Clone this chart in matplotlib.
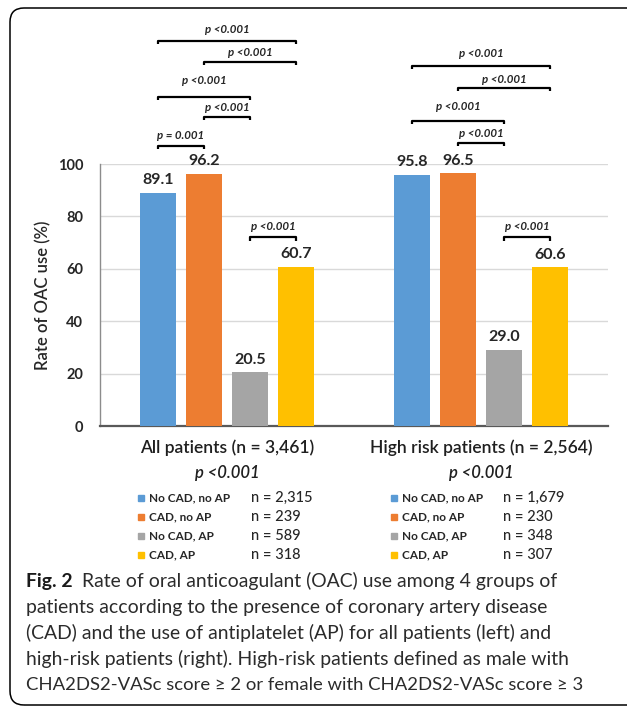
import matplotlib
matplotlib.use('Agg')
import matplotlib.pyplot as plt
from matplotlib.patches import FancyBboxPatch, Rectangle
from matplotlib.transforms import IdentityTransform, blended_transform_factory

# ---------------- data ----------------
groups = ['All patients (n = 3,461)', 'High risk patients (n = 2,564)']
group_p = ['p <0.001', 'p <0.001']
series = ['No CAD, no AP', 'CAD, no AP', 'No CAD, AP', 'CAD, AP']
colors = ['#5B9BD5', '#ED7D31', '#A5A5A5', '#FFC000']
all_patients = [89.1, 96.2, 20.5, 60.7]
high_risk = [95.8, 96.5, 29.0, 60.6]
n_all = ['n = 2,315', 'n = 239', 'n = 589', 'n = 318']
n_high = ['n = 1,679', 'n = 230', 'n = 348', 'n = 307']
yticks = [0, 20, 40, 60, 80, 100]
# pairwise comparisons: (group, bar i, bar j, label)
comparisons = [
    (0, 0, 3, 'p <0.001'), (0, 1, 3, 'p <0.001'), (0, 0, 2, 'p <0.001'),
    (0, 1, 2, 'p <0.001'), (0, 0, 1, 'p = 0.001'), (0, 2, 3, 'p <0.001'),
    (1, 0, 3, 'p <0.001'), (1, 1, 3, 'p <0.001'), (1, 0, 2, 'p <0.001'),
    (1, 1, 2, 'p <0.001'), (1, 2, 3, 'p <0.001'),
]
caption_bold = 'Fig. 2'
caption_lines = [
    'Rate of oral anticoagulant (OAC) use among 4 groups of',
    'patients according to the presence of coronary artery disease',
    '(CAD) and the use of antiplatelet (AP) for all patients (left) and',
    'high-risk patients (right). High-risk patients defined as male with',
    'CHA2DS2-VASc score \u2265 2 or female with CHA2DS2-VASc score \u2265 3',
]

# ---------------- layout (positions / styles) ----------------
W, H = 627, 706
FONT = ['Lato', 'DejaVu Sans']
plt.rcParams['font.family'] = FONT
# bracket line height, text height (data units) for each comparison
bracket_pos = [(147, 151.5), (139, 142.4), (125.6, 131.7), (118, 121.4), (107, 110.7), (72, 76),
               (137.4, 142), (129, 132.4), (116.4, 121.8), (108, 111.8), (72, 76)]
step, bw = 0.181, 0.142

fig = plt.figure(figsize=(W / 100, H / 100), dpi=100)
fig.patch.set_facecolor('white')

def fx(px):
    return px / W

def fy(py):
    return 1 - py / H

ax = fig.add_axes([fx(100), fy(426), fx(608) - fx(100), fy(164) - fy(426)])
ax.set_xlim(-0.5, 1.5)
ax.set_ylim(0, 100)

data = [all_patients, high_risk]
for g, vals in enumerate(data):
    for i, v in enumerate(vals):
        x = g + (i - 1.5) * step
        ax.bar(x, v, width=bw, color=colors[i], zorder=3)
        ax.annotate(f'{v:.1f}', (x, v), xytext=(0, 4), textcoords='offset points',
                    ha='center', va='bottom', fontsize=11.5, fontweight='bold',
                    color='#262626', zorder=4)

for (g, i, j, lab), (yl, yt) in zip(comparisons, bracket_pos):
    x1 = g + (i - 1.5) * step
    x2 = g + (j - 1.5) * step
    ax.plot([x1, x1, x2, x2], [yl - 1.3, yl, yl, yl - 1.3], color='black', lw=1.6,
            clip_on=False, solid_capstyle='butt', zorder=5)
    ax.text((x1 + x2) / 2, yt, lab, ha='center', va='center', fontsize=8.3,
            fontweight='bold', fontstyle='italic', color='#262626', clip_on=False)

ax.set_yticks(yticks)
ax.set_yticklabels([str(t) for t in yticks], fontsize=10.5, fontweight='bold', color='#262626')
ax.tick_params(axis='y', length=0, pad=12)
ax.set_xticks([])
ax.yaxis.grid(True, color='#D9D9D9', lw=1)
ax.set_axisbelow(True)
for s in ['top', 'right']:
    ax.spines[s].set_visible(False)
ax.spines['left'].set_color('#8C8C8C')
ax.spines['left'].set_linewidth(1.0)
ax.spines['bottom'].set_color('#595959')
ax.spines['bottom'].set_linewidth(1.6)
ax.set_ylabel('Rate of OAC use (%)', fontsize=12, fontweight='semibold', color='#262626')
ax.yaxis.set_label_coords((51 - 100) / (608 - 100), 0.5)

bt = blended_transform_factory(ax.transData, fig.transFigure)
for g in range(2):
    ax.text(g, fy(448), groups[g], transform=bt, ha='center', va='center',
            fontsize=12.5, fontweight='semibold', color='#1f1f1f')
    ax.text(g, fy(473), group_p[g], transform=bt, ha='center', va='center',
            fontsize=12, fontstyle='italic', fontweight='semibold', color='#1f1f1f')

# custom legends
legend_x = [(138, 149, 251), (391, 402, 503)]
rows_y = [498, 517, 536, 555]
n_lists = [n_all, n_high]
for g in range(2):
    sx, lx, nx = legend_x[g]
    for i, lab in enumerate(series):
        ry = rows_y[i]
        fig.patches.append(Rectangle((fx(sx), fy(ry + 3)), fx(6), 6 / H, transform=fig.transFigure,
                                     color=colors[i], figure=fig))
        fig.text(fx(lx), fy(ry), lab, ha='left', va='center', fontsize=8.5,
                 fontweight='bold', color='#262626')
        fig.text(fx(nx), fy(ry), n_lists[g][i], ha='left', va='center', fontsize=10.5,
                 fontweight='medium', color='#262626')

# caption
fig.canvas.draw()
renderer = fig.canvas.get_renderer()

def fit_size(text, target_px, base=13):
    probe = fig.text(0, 0, text, fontsize=base, fontweight='normal')
    w = probe.get_window_extent(renderer).width
    probe.remove()
    return base * target_px / w

cap_fs = fit_size(caption_lines[1], 545 - 26)
last_fs = min(cap_fs, fit_size(caption_lines[4], 580 - 26))
line_y = [581, 607, 633, 659, 685]
tb = fig.text(fx(26), fy(line_y[0]), caption_bold, ha='left', va='center',
              fontsize=cap_fs, fontweight='bold', color='#1a1a1a')
bw_px = tb.get_window_extent(renderer).width
for k, line in enumerate(caption_lines):
    x0 = 26 + (bw_px + 9 if k == 0 else 0)
    fs = last_fs if k == 4 else cap_fs
    fig.text(fx(x0), fy(line_y[k]), line, ha='left', va='center', fontsize=fs,
             fontweight='normal', color='#2b2b2b')

# rounded frame
frame = FancyBboxPatch((10, H - 705), 660, 697, boxstyle='round,pad=0,rounding_size=14',
                       transform=IdentityTransform(), fill=False, ec='black', lw=1.1,
                       figure=fig)
fig.patches.append(frame)

fig.savefig('out.png', dpi=100)
